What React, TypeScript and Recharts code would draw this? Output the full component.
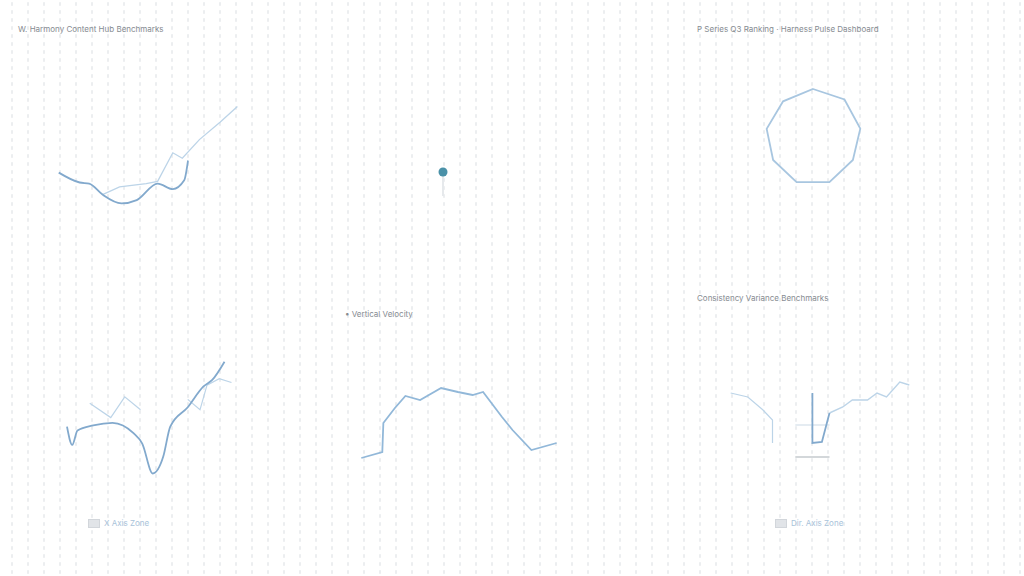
import React from "react";
import {
  LineChart,
  Line,
  XAxis,
  YAxis,
  ZAxis,
  ScatterChart,
  Scatter,
  RadarChart,
  Radar,
  PolarGrid,
  PolarAngleAxis,
  PolarRadiusAxis,
  ReferenceLine,
} from "recharts";

// --- data (0–100 scale on both axes) ---
const hubPrimary = [
  { x: 2, y: 34 }, { x: 13, y: 25 }, { x: 18, y: 24 }, { x: 25, y: 14 },
  { x: 35, y: 6 }, { x: 43, y: 9 }, { x: 54, y: 24 }, { x: 62, y: 19 },
  { x: 68, y: 27 }, { x: 70, y: 45 },
];
const hubSecondary = [
  { x: 25, y: 14 }, { x: 34, y: 21 }, { x: 48, y: 24 }, { x: 54, y: 26 },
  { x: 62, y: 52 }, { x: 67, y: 47 }, { x: 76, y: 64 }, { x: 87, y: 80 },
  { x: 96, y: 94 },
];

const pulsePoint = [{ x: 43, y: 48 }];

const radarAxes = ["A", "B", "C", "D", "E", "F", "G", "H", "I"];
const radarValues = [98, 100, 98, 94, 98, 98, 94, 96, 95];

const zonePrimary = [
  { x: 4, y: 41 }, { x: 7, y: 27 }, { x: 10, y: 38 }, { x: 19, y: 42 },
  { x: 30, y: 44 }, { x: 42, y: 36 }, { x: 47, y: 28 }, { x: 53, y: 5 },
  { x: 59, y: 18 }, { x: 63, y: 41 }, { x: 73, y: 56 }, { x: 82, y: 72 },
  { x: 87, y: 77 }, { x: 94, y: 91 },
];
const zoneSideA = [{ x: 17, y: 59 }, { x: 29, y: 48 }, { x: 37, y: 64 }, { x: 46, y: 54 }];
const zoneSideB = [
  { x: 73, y: 62 }, { x: 80, y: 54 }, { x: 84, y: 73 }, { x: 91, y: 78 }, { x: 98, y: 75 },
];

const velocity = [
  { x: 3, y: 12 }, { x: 13, y: 18 }, { x: 13.5, y: 47 }, { x: 19, y: 62 },
  { x: 24, y: 74 }, { x: 31, y: 70 }, { x: 41, y: 82 }, { x: 49, y: 78 },
  { x: 56, y: 75 }, { x: 61, y: 78 }, { x: 70, y: 53 }, { x: 75, y: 40 },
  { x: 84, y: 20 }, { x: 96, y: 27 },
];

const varianceDip = [{ x: 46, y: 77 }, { x: 46, y: 27 }, { x: 51, y: 28 }, { x: 55, y: 57 }];
const varianceRight = [
  { x: 55, y: 57 }, { x: 62, y: 63 }, { x: 67, y: 70 }, { x: 75, y: 70 },
  { x: 80, y: 77 }, { x: 85, y: 73 }, { x: 92, y: 88 }, { x: 97, y: 85 },
];
const varianceLeft = [{ x: 3, y: 77 }, { x: 12, y: 73 }, { x: 20, y: 60 }, { x: 25, y: 50 }, { x: 25, y: 27 }];

const DARK = "#82a9cd";
const LIGHT = "#bcd4e8";
const FONT = "Inter, 'DejaVu Sans', sans-serif";

const titleStyle: React.CSSProperties = {
  position: "absolute",
  fontFamily: FONT,
  fontSize: 8,
  color: "#868b91",
  whiteSpace: "nowrap",
  lineHeight: "10px",
};

function Axes() {
  return (
    <>
      <XAxis type="number" dataKey="x" domain={[0, 100]} hide />
      <YAxis type="number" dataKey="y" domain={[0, 100]} hide />
    </>
  );
}

function Legend({ left, top, label }: { left: number; top: number; label: string }) {
  return (
    <div style={{ ...titleStyle, left, top, color: "#a9c3da", display: "flex", alignItems: "center" }}>
      <span style={{ width: 10, height: 7, background: "#e1e4e8", border: "1px solid #d2d6db", marginRight: 4 }} />
      {label}
    </div>
  );
}

export default function App() {
  const radarData = radarAxes.map((a, i) => ({ axis: a, value: radarValues[i] }));
  return (
    <div
      style={{
        position: "fixed",
        left: 0,
        top: 0,
        width: 1024,
        height: 576,
        background: "#ffffff",
        backgroundImage: "radial-gradient(ellipse 1.4px 2.6px, #eceef0 60%, transparent 100%)",
        backgroundSize: "16px 8px",
        backgroundPosition: "4px 0px",
        overflow: "hidden",
      }}
    >
      <div style={{ ...titleStyle, left: 18, top: 24 }}>W. Harmony Content Hub Benchmarks</div>
      <div style={{ ...titleStyle, left: 697, top: 24 }}>P Series Q3 Ranking · Harness Pulse Dashboard</div>
      <div style={{ ...titleStyle, left: 345, top: 309 }}>• Vertical Velocity</div>
      <div style={{ ...titleStyle, left: 697, top: 293 }}>Consistency Variance Benchmarks</div>

      {/* top-left: content hub lines */}
      <div style={{ position: "absolute", left: 55, top: 100 }}>
        <LineChart width={190} height={110} margin={{ top: 0, right: 0, bottom: 0, left: 0 }}>
          {Axes()}
          <Line data={hubSecondary} dataKey="y" type="linear" stroke={LIGHT} strokeWidth={1.3} dot={false} isAnimationActive={false} />
          <Line data={hubPrimary} dataKey="y" type="monotone" stroke={DARK} strokeWidth={1.8} dot={false} isAnimationActive={false} />
        </LineChart>
      </div>

      {/* top-middle: single pulse point */}
      <div style={{ position: "absolute", left: 400, top: 120 }}>
        <ScatterChart width={100} height={100} margin={{ top: 0, right: 0, bottom: 0, left: 0 }}>
          {Axes()}
          <ZAxis range={[28, 28]} />
          <ReferenceLine segment={[{ x: 43, y: 48 }, { x: 43, y: 24 }]} stroke="#e6e9ec" strokeWidth={2} />
          <Scatter data={pulsePoint} fill="#4a91a8" shape="circle" isAnimationActive={false} />
        </ScatterChart>
      </div>

      {/* top-right: radar */}
      <div style={{ position: "absolute", left: 763, top: 87 }}>
        <RadarChart width={100} height={100} cx={50} cy={50} outerRadius={49} data={radarData} margin={{ top: 0, right: 0, bottom: 0, left: 0 }}>
          <PolarGrid stroke="none" />
          <PolarAngleAxis dataKey="axis" tick={false} axisLine={false} />
          <PolarRadiusAxis domain={[0, 100]} tick={false} axisLine={false} />
          <Radar dataKey="value" stroke="#a8c6e0" strokeWidth={1.8} fill="none" isAnimationActive={false} />
        </RadarChart>
      </div>

      {/* bottom-left: zone lines */}
      <div style={{ position: "absolute", left: 60, top: 350 }}>
        <LineChart width={175} height={130} margin={{ top: 0, right: 0, bottom: 0, left: 0 }}>
          {Axes()}
          <Line data={zoneSideA} dataKey="y" type="linear" stroke={LIGHT} strokeWidth={1.2} dot={false} isAnimationActive={false} />
          <Line data={zoneSideB} dataKey="y" type="linear" stroke={LIGHT} strokeWidth={1.2} dot={false} isAnimationActive={false} />
          <Line data={zonePrimary} dataKey="y" type="monotone" stroke={DARK} strokeWidth={1.8} dot={false} isAnimationActive={false} />
        </LineChart>
      </div>
      <Legend left={88} top={518} label="X Axis Zone" />

      {/* bottom-middle: velocity */}
      <div style={{ position: "absolute", left: 355, top: 370 }}>
        <LineChart width={210} height={100} margin={{ top: 0, right: 0, bottom: 0, left: 0 }}>
          {Axes()}
          <Line data={velocity} dataKey="y" type="linear" stroke="#92b8d9" strokeWidth={1.8} dot={false} isAnimationActive={false} />
        </LineChart>
      </div>

      {/* bottom-right: variance */}
      <div style={{ position: "absolute", left: 725, top: 370 }}>
        <LineChart width={190} height={100} margin={{ top: 0, right: 0, bottom: 0, left: 0 }}>
          {Axes()}
          <ReferenceLine segment={[{ x: 37, y: 45 }, { x: 55, y: 45 }]} stroke="#dde6ee" strokeWidth={1.5} />
          <ReferenceLine segment={[{ x: 37, y: 13 }, { x: 55, y: 13 }]} stroke="#c4cace" strokeWidth={1.5} />
          <Line data={varianceLeft} dataKey="y" type="linear" stroke={LIGHT} strokeWidth={1.2} dot={false} isAnimationActive={false} />
          <Line data={varianceRight} dataKey="y" type="linear" stroke={LIGHT} strokeWidth={1.4} dot={false} isAnimationActive={false} />
          <Line data={varianceDip} dataKey="y" type="linear" stroke={DARK} strokeWidth={1.8} dot={false} isAnimationActive={false} />
        </LineChart>
      </div>
      <Legend left={775} top={518} label="Dir. Axis Zone" />
    </div>
  );
}
